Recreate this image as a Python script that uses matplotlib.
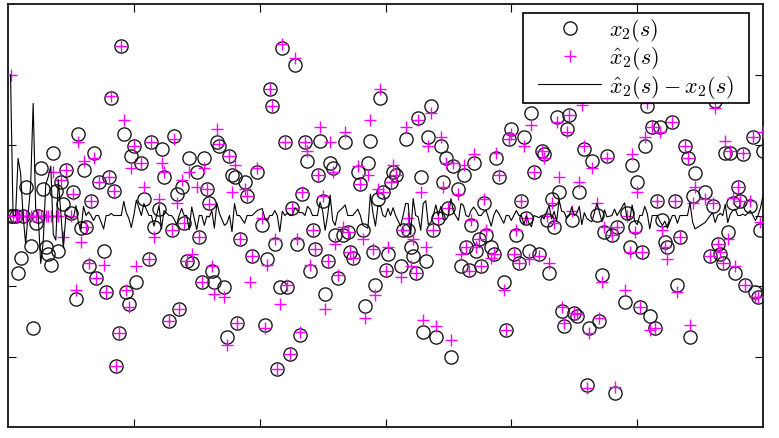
import numpy as np
import matplotlib
matplotlib.use("Agg")
import matplotlib.pyplot as plt

plt.rcParams['mathtext.fontset'] = 'cm'

nan = np.nan
# sample index s, true state x2(s) and estimate x2hat(s)
s = [1, 2, 3, 4, 5, 6, 7, 9, 10, 11, 12, 13, 14, 15, 16, 17, 18, 19, 20, 21, 22, 23, 25, 26, 27, 28, 29, 30,
     31, 32, 33, 34, 35, 36, 38, 39, 40, 41, 42, 43, 44, 45, 46, 47, 48, 49, 50, 51, 53, 54, 56, 57, 58, 60,
     61, 62, 64, 65, 66, 67, 68, 69, 70, 71, 72, 73, 75, 76, 77, 78, 79, 80, 81, 82, 83, 84, 86, 87, 88, 89,
     90, 91, 92, 94, 95, 96, 97, 99, 101, 102, 103, 104, 105, 106, 107, 108, 109, 110, 111, 112, 113, 114,
     115, 116, 117, 118, 119, 120, 121, 122, 123, 124, 125, 126, 127, 128, 129, 130, 131, 133, 134, 135, 136,
     137, 139, 140, 141, 142, 143, 144, 145, 146, 147, 148, 149, 150, 151, 152, 153, 154, 156, 157, 158, 159,
     160, 161, 162, 163, 164, 165, 166, 167, 168, 169, 170, 171, 172, 173, 174, 175, 176, 177, 179, 180, 181,
     182, 183, 184, 185, 186, 187, 188, 189, 190, 192, 193, 194, 195, 197, 198, 199, 200, 201, 202, 203, 204,
     205, 206, 207, 208, 209, 211, 212, 213, 214, 215, 216, 217, 218, 219, 220, 221, 222, 223, 224, 225, 226,
     227, 228, 229, 230, 231, 232, 234, 235, 236, 237, 238, 240, 241, 242, 245, 246, 247, 248, 249, 250, 251,
     252, 253, 254, 255, 256, 257, 258, 259, 260, 261, 262, 264, 265, 266, 267, 269, 270, 271, 272, 273, 277,
     279, 280, 281, 282, 283, 284, 285, 286, 287, 288, 289, 290, 291, 292, 293, 295, 296, 297, 298, 299, 300]

x2 = [0.00, 0.00, 0.00, -0.81, -0.60, 0.00, 0.40, -0.43, -1.59, -0.10, 0.00, 0.68, 0.37, -0.44, -0.55, -0.70,
      0.89, 0.35, -0.51, 0.47, 0.16, 0.64, 0.04, 0.33, -1.19, 1.15, -0.18, 0.65, -0.17, -0.72, 0.21, 0.89,
      -0.88, 0.47, -0.51, -1.08, 0.54, 1.67, 0.35, -2.14, -1.66, 2.40, 1.16, -1.09, -1.26, 0.85, 0.98, -0.94,
      0.74, 0.24, -0.62, 1.04, -0.16, 0.09, 0.94, 0.54, -1.49, -0.20, 1.13, 0.31, -1.33, 0.41, -0.10, -0.65,
      0.82, -0.67, 0.61, -0.31, -0.94, 0.82, 0.38, 0.18, -0.79, -0.94, 1.04, 0.98, -1.02, -1.72, 0.84, 0.57,
      0.55, -1.52, -0.34, 0.48, 0.27, nan, -0.57, 0.61, -0.13, -1.56, -0.62, 1.79, 1.55, -0.41, -2.18, -1.02,
      2.37, 1.04, -1.01, -1.97, 0.11, 2.13, -0.41, -1.69, 0.30, 1.04, 0.78, -0.79, -0.20, -0.48, 0.57, 1.06,
      0.20, -1.11, -0.65, 0.75, 0.68, -0.27, -0.88, -0.27, 1.04, -0.24, -0.52, -0.60, 0.61, 0.44, -0.20, -1.29,
      0.75, 1.06, -0.52, -0.98, 0.23, 1.66, 0.34, -0.77, -0.55, 0.48, 0.61, 0.58, -0.72, -0.20, 1.08, -0.20,
      -0.45, -0.58, -0.81, 1.38, 0.55, -1.65, -0.65, 1.11, 1.56, -0.20, -1.72, -0.03, 0.98, 0.47, 0.81, 0.11,
      -2.01, 0.70, 0.37, -0.72, 0.58, -0.45, -0.77, -0.13, 0.75, -0.51, -0.34, -0.72, 0.18, -0.27, -0.45, -0.55,
      0.81, 0.55, -0.94, -1.63, 1.08, 1.22, -0.55, -0.27, -0.67, 0.20, 1.11, -0.03, -0.51, 1.45, 0.61, -0.55,
      0.91, 0.87, -0.06, -0.81, 0.23, -0.16, 1.40, 0.33, -1.36, -1.57, 1.22, 1.43, -0.06, -1.38, -1.43, 0.34,
      1.70, 0.94, -2.40, -1.59, 0.77, 0.01, -1.50, -0.85, -0.24, 0.84, -0.27, -2.52, -0.16, -1.23, 0.04, -0.45,
      0.72, -0.16, 0.47, -1.30, -0.52, 0.98, 1.56, -1.43, 1.25, -1.59, 0.20, 1.26, -0.06, -0.37, -0.44, 1.32,
      0.20, -0.98, -0.30, 0.98, 0.82, -1.73, 0.27, 0.60, 0.33, -0.58, 0.14, 1.63, -0.41, -0.55, -0.67, 0.89,
      -0.24, 0.89, 0.18, -0.81, 0.40, 0.20, 0.87, -0.98, 0.13, 1.11, -1.09, -1.15, -0.20, 0.91]

x2hat = [2.00, 0.00, 0.00, 0.00, 0.00, 0.00, 0.00, 0.00, 0.00, 0.00, 0.00, 0.00, 0.00, 0.00, 0.00, 0.00,
         0.62, 0.00, 0.00, 0.50, -0.30, 0.65, 0.00, 0.30, -1.05, 1.04, -0.38, 0.78, -0.17, -0.67, 0.21, 0.82,
         -0.88, 0.47, -0.70, -1.08, 0.54, 1.70, 0.35, -2.14, -1.66, 2.40, 1.36, -1.05, -1.30, 0.68, 0.98, -0.72,
         0.74, 0.41, -0.62, 1.04, -0.31, 0.23, 0.75, 0.61, -1.49, -0.20, 1.08, 0.18, -1.33, 0.51, -0.10, -0.65,
         0.62, -0.55, 0.41, -0.31, -0.94, 0.68, 0.37, 0.16, -0.72, -1.12, 1.22, 1.01, -1.16, -1.83, 0.84, 0.34,
         0.72, -1.52, -0.34, 0.37, 0.27, -0.95, -0.57, 0.68, -0.03, -1.59, -0.70, 1.79, 1.55, -0.34, -2.18, -1.25,
         2.43, 1.04, -0.98, -1.97, 0.11, 2.24, -0.34, -1.65, 0.34, 1.04, 0.91, -0.70, -0.20, -0.48, 0.57, 1.25,
         0.27, -1.32, -0.65, 1.04, 0.61, -0.41, -0.84, -0.16, 1.19, -0.24, -0.52, -0.60, 0.70, 0.44, -0.34, -1.45,
         0.57, 1.36, -0.48, -1.13, 0.37, 1.80, 0.34, -0.79, -0.45, 0.48, 0.72, 0.58, -0.87, -0.20, 1.25, -0.03,
         -0.72, -0.34, -0.81, 1.36, 0.34, -1.48, -0.44, 0.98, 1.46, -0.20, -1.57, -0.03, 1.11, 0.41, 0.75, 0.11,
         -1.77, 0.75, 0.30, -0.55, 0.72, -0.45, -0.79, -0.06, 0.87, -0.44, -0.34, -0.72, 0.23, -0.20, -0.60, -0.55,
         0.89, 0.58, -1.05, -1.63, 1.08, 1.15, -0.55, -0.20, -0.67, 0.20, 0.98, -0.03, -0.62, 1.29, 0.61, -0.58,
         0.91, 0.82, -0.01, -0.67, 0.18, -0.10, 1.32, 0.55, -1.30, -1.52, 1.18, 1.43, 0.06, -1.38, -1.40, 0.47,
         1.57, 0.98, -2.44, -1.66, 0.68, 0.18, -1.45, -0.94, -0.16, 0.82, -0.27, -2.43, -0.16, -1.05, -0.01, -0.52,
         0.87, -0.24, 0.34, -1.30, -0.52, 1.11, 1.59, -1.62, 1.25, -1.59, 0.20, 1.18, -0.20, -0.45, -0.62, 1.32,
         0.20, -1.09, -0.30, 0.98, 0.82, -1.55, 0.18, 0.41, 0.23, -0.58, 0.18, 1.53, -0.41, -0.52, -0.67, 1.05,
         -0.34, 0.91, 0.25, -0.72, 0.40, 0.20, 0.89, -0.98, 0.20, 1.11, -1.16, -1.15, -0.09, 1.19]

s = np.array(s, dtype=float)
x2 = np.array(x2, dtype=float)
x2hat = np.array(x2hat, dtype=float)
err = x2hat - x2
ok = np.isfinite(err)

fig = plt.figure(figsize=(7.79, 4.39), dpi=100)
ax = fig.add_axes([8/779, 1-428/439, 755/779, 423/439])

ax.plot(s, x2, linestyle='none', marker='o', markersize=9.5, markerfacecolor='none',
        markeredgecolor='#1a1a1a', markeredgewidth=1.0, label=r'$x_2(s)$', zorder=2)
ax.plot(s, x2hat, linestyle='none', marker='+', markersize=8, markeredgecolor='#ff00ff',
        markeredgewidth=1.0, label=r'$\hat{x}_2(s)$', zorder=3)
ax.plot(s[ok], err[ok], color='black', linewidth=0.8, label=r'$\hat{x}_2(s) - x_2(s)$', zorder=4)

ax.set_xlim(0, 300)
ax.set_ylim(-3, 3)
ax.set_xticks([50, 100, 150, 200, 250])
ax.set_yticks([-2, -1, 0, 1, 2])
ax.tick_params(direction='in', length=6, width=0.8, top=True, right=True,
               labelbottom=False, labelleft=False)
for sp in ax.spines.values():
    sp.set_linewidth(1.4)
    sp.set_color('#222222')

leg = ax.legend(loc='upper right', bbox_to_anchor=(729.5/755, 414/423), borderaxespad=0,
                fontsize=16, frameon=True, fancybox=False, framealpha=1, edgecolor='black',
                handlelength=2.85, handletextpad=0.36, borderpad=0.15, labelspacing=0.05)
frame = leg.get_frame()
frame.set_linewidth(1.2)
# extra horizontal padding only (vertical padding squeezed by the mutation aspect)
frame.set_boxstyle('square', pad=0.5)
frame.set_mutation_aspect(0.001)
leg.set_zorder(10)

fig.savefig('out.png', dpi=100)
